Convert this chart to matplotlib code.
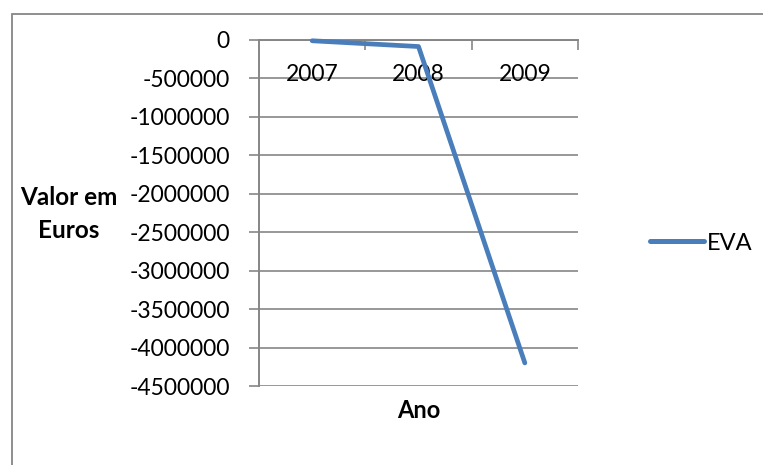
import matplotlib
matplotlib.use("Agg")
import matplotlib.pyplot as plt
from matplotlib.patches import Rectangle
from matplotlib.ticker import FixedLocator

plt.rcParams['font.family'] = ['Lato', 'DejaVu Sans']

# Data
years = ["2007", "2008", "2009"]
eva = [-10000, -85000, -4200000]
y_ticks = [0, -500000, -1000000, -1500000, -2000000, -2500000,
           -3000000, -3500000, -4000000, -4500000]
series_name = "EVA"

grid_gray = "#868686"
line_blue = "#4A7EBB"
fs = 16.5

fig = plt.figure(figsize=(7.63, 4.65), dpi=100)

# Chart area border (runs off the right and bottom edges)
fig.patches.append(Rectangle((12 / 763, -0.1), 1.0, 1 - 14.5 / 465 + 0.1,
                             transform=fig.transFigure, fill=False,
                             edgecolor=grid_gray, linewidth=1.3))

ax = fig.add_axes([259 / 763, 1 - 386 / 465, 319 / 763, 346 / 465])
x = list(range(len(years)))

ax.set_xlim(-0.5, len(years) - 0.5)
ax.set_ylim(-4500000, 0)

# Value axis: ticks, labels and horizontal gridlines
ax.set_yticks(y_ticks)
ax.set_yticklabels([str(v) for v in y_ticks], fontsize=fs)
ax.tick_params(axis='y', direction='out', length=7, width=1.2,
               color=grid_gray, pad=14)
ax.yaxis.grid(True, color=grid_gray, linewidth=1.2)
ax.set_axisbelow(True)

# Category axis sits at zero (top edge), ticks between categories
ax.xaxis.set_major_locator(FixedLocator([0.5, 1.5, 2.5]))
ax.tick_params(axis='x', which='both', bottom=False, top=True,
               labelbottom=False, labeltop=False, direction='in',
               length=7, width=1.2, color=grid_gray)
for xi, label in zip(x, years):
    ax.annotate(label, xy=(xi, 0), xytext=(0, -25), textcoords='offset points',
                ha='center', va='center', fontsize=fs, color='black')

for side in ['right', 'bottom']:
    ax.spines[side].set_visible(False)
ax.spines['left'].set_color(grid_gray)
ax.spines['left'].set_linewidth(1.4)
ax.spines['top'].set_color(grid_gray)
ax.spines['top'].set_linewidth(1.4)

ax.plot(x, eva, color=line_blue, linewidth=3.4, solid_capstyle='round',
        solid_joinstyle='round', label=series_name, clip_on=False, zorder=3)

ax.set_xlabel("Ano", fontsize=17, fontweight='bold', labelpad=9)
fig.text(69 / 763, 1 - 214 / 465, "Valor em\nEuros", ha='center', va='center',
         fontsize=17.5, fontweight='bold', linespacing=1.5)

leg = ax.legend(loc='center left', bbox_to_anchor=(650 / 763, 1 - 243 / 465),
                bbox_transform=fig.transFigure, frameon=False, fontsize=17,
                handlelength=2.3, handletextpad=0.1, borderpad=0, borderaxespad=0)
for h in leg.get_lines():
    h.set_linewidth(3.6)

fig.savefig("out.png", dpi=100)
